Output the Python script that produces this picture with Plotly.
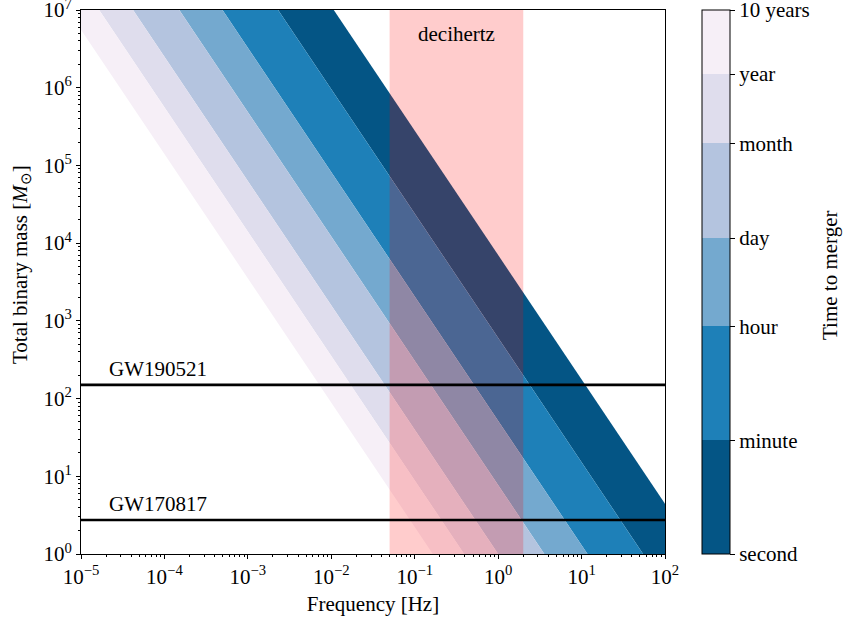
import numpy as np
import plotly.graph_objects as go

# ---- data ----
merger_labels = ["second", "minute", "hour", "day", "month", "year", "10 years"]
merger_seconds = [1.0, 60.0, 3600.0, 86400.0, 2.592e6, 3.156e7, 3.156e8]
# frequency [Hz] where each constant-time-to-merger boundary meets M = 1 and M = 1e7 solar masses
boundary_freq_at_low_mass = [254.0, 54.7, 11.78, 3.58, 1.0, 0.391, 0.165]
boundary_freq_at_high_mass = [1.071e-2, 2.307e-3, 4.97e-4, 1.508e-4, 4.21e-5, 1.651e-5, 6.95e-6]
mass_low, mass_high = 1.0, 1.0e7
band_colors = ["#045585", "#1e80b8", "#74a9cf", "#b4c4df", "#dfdded", "#f6eff7"]

decihertz_band = [0.05, 2.0]
event_names = ["GW190521", "GW170817"]
event_masses = [150.0, 2.74]

x_tick_vals = [1e-5, 1e-4, 1e-3, 1e-2, 1e-1, 1e0, 1e1, 1e2]
x_tick_text = ["10<sup>−5</sup>", "10<sup>−4</sup>", "10<sup>−3</sup>", "10<sup>−2</sup>",
               "10<sup>−1</sup>", "10<sup>0</sup>", "10<sup>1</sup>", "10<sup>2</sup>"]
y_tick_vals = [1e0, 1e1, 1e2, 1e3, 1e4, 1e5, 1e6, 1e7]
y_tick_text = ["10<sup>0</sup>", "10<sup>1</sup>", "10<sup>2</sup>", "10<sup>3</sup>",
               "10<sup>4</sup>", "10<sup>5</sup>", "10<sup>6</sup>", "10<sup>7</sup>"]

FONT = "Liberation Serif"
FS = 21
TXT = dict(family=FONT, size=FS, color="black")

fig = go.Figure()

# time-to-merger bands
for i in range(len(band_colors)):
    xs = [boundary_freq_at_low_mass[i + 1], boundary_freq_at_low_mass[i],
          boundary_freq_at_high_mass[i], boundary_freq_at_high_mass[i + 1],
          boundary_freq_at_low_mass[i + 1]]
    ys = [mass_low, mass_low, mass_high, mass_high, mass_low]
    fig.add_trace(go.Scatter(x=xs, y=ys, mode="none", fill="toself",
                             fillcolor=band_colors[i], hoverinfo="skip", showlegend=False))

# decihertz band
fig.add_trace(go.Scatter(
    x=[decihertz_band[0], decihertz_band[1], decihertz_band[1], decihertz_band[0], decihertz_band[0]],
    y=[mass_low, mass_low, mass_high, mass_high, mass_low],
    mode="none", fill="toself", fillcolor="rgba(255,0,0,0.2)", hoverinfo="skip", showlegend=False))

# events
for name, m in zip(event_names, event_masses):
    fig.add_trace(go.Scatter(x=[x_tick_vals[0], x_tick_vals[-1]], y=[m, m], mode="lines",
                             line=dict(color="black", width=2.6), showlegend=False, hoverinfo="skip"))
    fig.add_annotation(x=np.log10(2.05e-5), y=np.log10(m), text=name, showarrow=False,
                       xanchor="left", yanchor="middle", yshift=16, font=TXT)

fig.add_annotation(x=np.log10(np.sqrt(decihertz_band[0] * decihertz_band[1])), y=0.956,
                   yref="paper", text="decihertz", showarrow=False, xanchor="center",
                   yanchor="middle", font=TXT)

# axis / colorbar titles as rotated annotations
fig.add_annotation(x=(21 - 81) / 584, y=1 - (265 - 10) / 544, xref="paper", yref="paper",
                   text="Total binary mass [<i>M</i><sub>⊙</sub>]", textangle=-90,
                   showarrow=False, xanchor="center", yanchor="middle", font=TXT)
fig.add_annotation(x=(830 - 81) / 584, y=1 - (275 - 10) / 544, xref="paper", yref="paper",
                   text="Time to merger", textangle=-90, showarrow=False,
                   xanchor="center", yanchor="middle", font=TXT)

# colorbar (discrete, log time)
log_t = np.log10(merger_seconds)
zmax = log_t[-1]
cs = []
for i, c in enumerate(band_colors):
    cs.append([log_t[i] / zmax, c])
    cs.append([log_t[i + 1] / zmax, c])
fig.add_trace(go.Scatter(
    x=[1e-9, 1e-9], y=[1e-9, 1e-9], mode="markers",
    marker=dict(color=[0, zmax], cmin=0, cmax=zmax, colorscale=cs, showscale=True,
                colorbar=dict(
                    x=(702 - 81) / 584, xanchor="left", xpad=0, ypad=0,
                    y=0.5, yanchor="middle", len=544, lenmode="pixels",
                    thickness=28, thicknessmode="pixels",
                    outlinewidth=1, outlinecolor="black",
                    tickmode="array", tickvals=list(log_t), ticktext=merger_labels,
                    ticks="outside", ticklen=5, tickwidth=1, tickcolor="black",
                    ticklabeloverflow="allow", tickfont=TXT)),
    showlegend=False, hoverinfo="skip"))

minor_vals = [m * 10.0 ** d for d in range(-6, 8) for m in range(2, 10)]
axis_common = dict(type="log", showgrid=False, zeroline=False, showline=True, linecolor="black",
                   linewidth=1, mirror=True, ticks="outside", ticklen=4, tickwidth=1,
                   tickcolor="black", tickfont=TXT, ticklabeloverflow="allow",
                   minor=dict(tickmode="array", tickvals=minor_vals, ticks="outside",
                              ticklen=2, tickwidth=0.8, tickcolor="black", showgrid=False))

fig.update_xaxes(range=[-5, 2], tickmode="array", tickvals=x_tick_vals, ticktext=x_tick_text,
                 title=dict(text="Frequency [Hz]", standoff=8, font=TXT), **axis_common)
fig.update_yaxes(range=[0, 7], tickmode="array", tickvals=y_tick_vals, ticktext=y_tick_text,
                 **axis_common)

fig.update_layout(width=844, height=623, margin=dict(l=81, r=179, t=10, b=69, autoexpand=False),
                  plot_bgcolor="white", paper_bgcolor="white", font=TXT)

fig.write_html("out.html", config={"displayModeBar": False},
               post_script="document.body.style.margin='0';")
